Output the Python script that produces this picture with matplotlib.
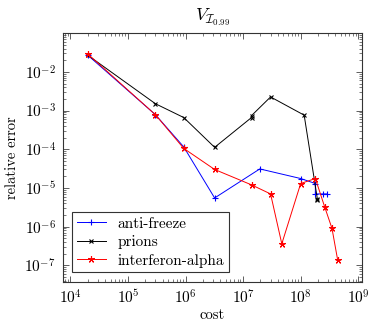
import matplotlib
matplotlib.use("Agg")
import matplotlib.pyplot as plt
from matplotlib.ticker import LogLocator, LogFormatterMathtext, NullFormatter, FixedLocator

plt.rcParams['font.family'] = ['cmr10', 'DejaVu Serif']
plt.rcParams['mathtext.fontset'] = 'cm'
plt.rcParams['axes.formatter.use_mathtext'] = True

# data
af_cost = [2e4, 3e5, 9.3e5, 3.2e6, 1.95e7, 1e8, 1.8e8, 1.8e8, 2.4e8, 2.9e8]
af_err = [2.7e-2, 7.8e-4, 1.15e-4, 5.5e-6, 3.1e-5, 1.75e-5, 1.3e-5, 7e-6, 7e-6, 7e-6]

pr_cost = [2e4, 3e5, 9.3e5, 3.2e6, 1.4e7, 1.4e7, 3e7, 1.15e8, 1.95e8, 1.95e8]
pr_err = [2.7e-2, 1.5e-3, 6.6e-4, 1.12e-4, 6.6e-4, 7.4e-4, 2.25e-3, 7.6e-4, 5.2e-6, 4.8e-6]

ia_cost = [2e4, 3e5, 9.3e5, 3.2e6, 1.4e7, 3e7, 4.7e7, 1e8, 1.8e8, 2.6e8, 3.5e8, 4.4e8]
ia_err = [2.9e-2, 7.8e-4, 1.05e-4, 3.0e-5, 1.2e-5, 7.0e-6, 3.6e-7, 1.3e-5, 1.75e-5, 3.3e-6, 9e-7, 1.35e-7]

labels = ['anti-freeze', 'prions', 'interferon-alpha']
xticks = [1e4, 1e5, 1e6, 1e7, 1e8, 1e9]
yticks = [1e-7, 1e-6, 1e-5, 1e-4, 1e-3, 1e-2]

fig = plt.figure(figsize=(3.74, 3.24), dpi=100)
ax = fig.add_axes([0.168, 0.131, 0.800, 0.766])

lw = 0.7
ax.plot(af_cost, af_err, color='blue', lw=lw, marker='+', ms=5, mew=0.8, label=labels[0])
ax.plot(pr_cost, pr_err, color='black', lw=lw, marker='x', ms=3.5, mew=0.8, label=labels[1])
ax.plot(ia_cost, ia_err, color='red', lw=lw, marker=(5, 2), ms=5, mew=0.8, label=labels[2])

ax.set_xscale('log')
ax.set_yscale('log')
ax.set_xlim(10**3.868, 10**9.066)
ax.set_ylim(10**-7.42, 10**-1.005)

ax.xaxis.set_major_locator(FixedLocator(xticks))
ax.yaxis.set_major_locator(FixedLocator(yticks))
ax.xaxis.set_minor_locator(LogLocator(base=10, subs=range(2, 10), numticks=20))
ax.yaxis.set_minor_locator(LogLocator(base=10, subs=range(2, 10), numticks=20))
ax.xaxis.set_minor_formatter(NullFormatter())
ax.yaxis.set_minor_formatter(NullFormatter())
ax.xaxis.set_major_formatter(LogFormatterMathtext())
ax.yaxis.set_major_formatter(LogFormatterMathtext())

ax.tick_params(which='both', direction='in', top=True, right=True, labelsize=11, color='#444444')
ax.tick_params(which='major', length=4, width=0.6, pad=5)
ax.tick_params(which='minor', length=2, width=0.5)
for s in ax.spines.values():
    s.set_linewidth(0.8)
    s.set_color('#333333')

ax.set_xlabel('cost', fontsize=10.5, labelpad=1)
ax.set_ylabel('relative error', fontsize=10.5, labelpad=4)
ax.set_title(r'$V_{\mathcal{I}_{0.99}}$', fontsize=13, pad=9)

leg = ax.legend(loc='lower left', fontsize=11, fancybox=False, framealpha=1,
                edgecolor='#333333', borderaxespad=0.6, handlelength=1.9,
                handletextpad=0.8, borderpad=0.3, labelspacing=0.3)
leg.get_frame().set_linewidth(0.8)

fig.savefig('out.png', dpi=100)
